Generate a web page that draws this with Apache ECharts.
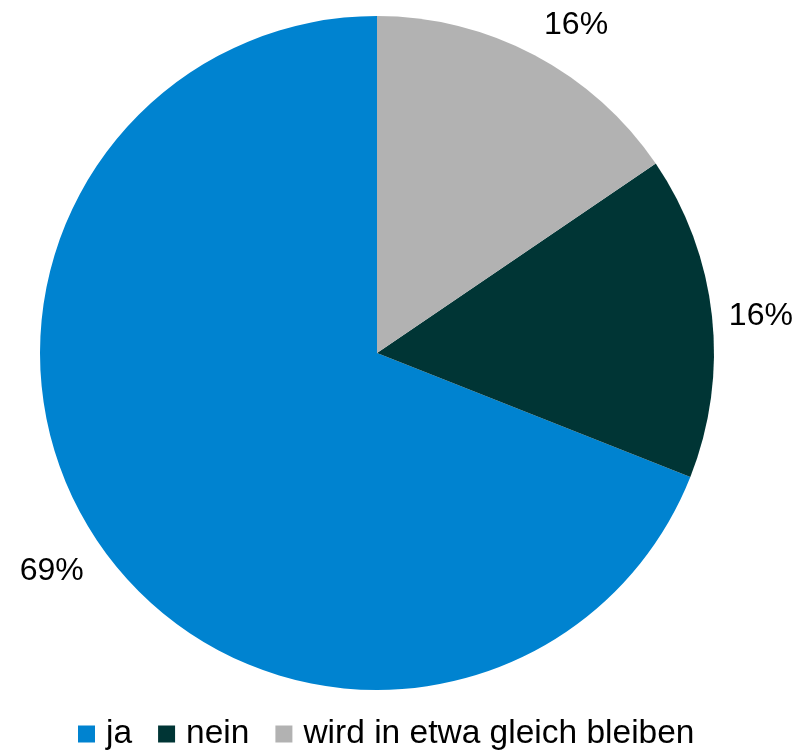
<!DOCTYPE html>
<html>
<head>
<meta charset="utf-8">
<script src="https://cdn.jsdelivr.net/npm/echarts@6/dist/echarts.min.js"></script>
<style>
html,body{margin:0;padding:0;background:#fff;}
#chart{width:799px;height:755px;}
</style>
</head>
<body>
<div id="chart"></div>
<script>
const categories = ['ja', 'nein', 'wird in etwa gleich bleiben'];
const values = [69, 15.5, 15.5];
const colors = ['#0083D0', '#003535', '#B2B2B2'];
const labelShift = [[7, 18], [-8, 2], [-5, -12]];

const chart = echarts.init(document.getElementById('chart'), null, {renderer: 'canvas'});
chart.setOption({
  animation: false,
  backgroundColor: '#ffffff',
  color: colors,
  legend: {
    data: categories,
    bottom: -1,
    left: 73,
    icon: 'rect',
    itemWidth: 17,
    itemHeight: 17,
    itemGap: 26,
    textStyle: {fontFamily: 'Liberation Sans, Arial, sans-serif', fontSize: 33.5, color: '#000', padding: [0, 0, 0, 6]}
  },
  series: [{
    type: 'pie',
    center: [377, 353],
    radius: 337,
    startAngle: 90,
    clockwise: false,
    avoidLabelOverlap: false,
    data: categories.map((c, i) => ({name: c, value: values[i]})),
    label: {
      show: true,
      position: 'outside',
      formatter: p => Math.round(p.value) + '%',
      fontFamily: 'Liberation Sans, Arial, sans-serif',
      fontSize: 32,
      color: '#000'
    },
    labelLine: {show: false, length: 20, length2: 0},
    labelLayout: p => ({dx: labelShift[p.dataIndex][0], dy: labelShift[p.dataIndex][1]}),
    itemStyle: {borderWidth: 0},
    emphasis: {disabled: true}
  }]
});
</script>
</body>
</html>
